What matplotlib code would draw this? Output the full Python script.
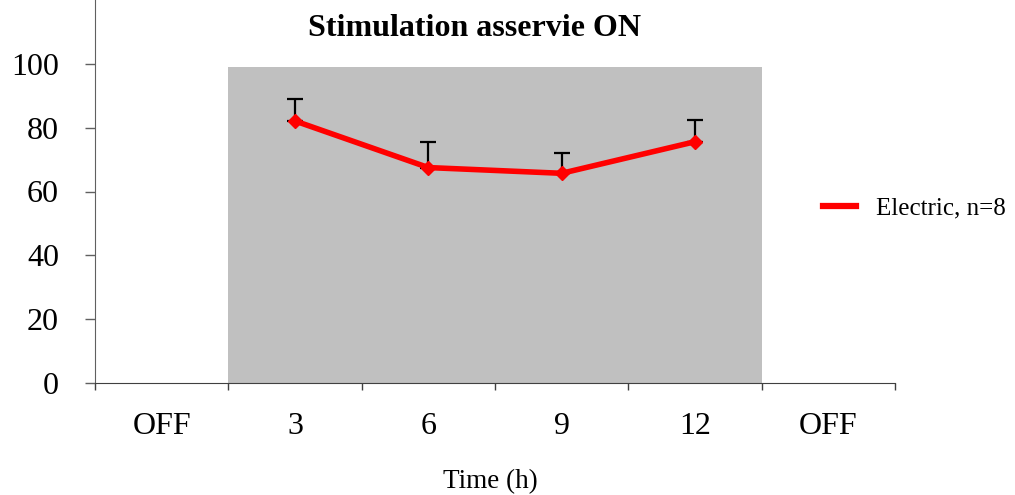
import numpy as np
import matplotlib
matplotlib.use("Agg")
import matplotlib.pyplot as plt
from matplotlib.lines import Line2D

# ---------- Data ----------
categories = ["OFF", "3", "6", "9", "12", "OFF"]
time_idx = [1, 2, 3, 4]            # category index of 3, 6, 9, 12 h
values = [82.1, 67.5, 65.7, 75.6]
errors = [7.0, 7.9, 6.3, 6.7]
on_start, on_end, on_level = 1, 5, 99.0
series_label = "Electric, n=8"

plt.rcParams['font.family'] = ['Liberation Serif', 'DejaVu Serif']

fig = plt.figure(figsize=(10.15, 4.95), dpi=100)
ax = fig.add_axes([95 / 1015, 1 - 383 / 495, 800 / 1015, 383 / 495])

# gray "ON" block
ax.bar((on_start + on_end) / 2, on_level, width=on_end - on_start,
       color="#c0c0c0", zorder=1)

xc = np.array(time_idx) + 0.5
ax.errorbar(xc, values, yerr=[np.zeros(len(errors)), errors], fmt="none",
            ecolor="black", elinewidth=1.6, capsize=5.5, capthick=1.6, zorder=2)
ax.plot(xc, values, color="red", lw=4, marker="D", ms=7, zorder=3)

ax.set_xlim(0, len(categories))
ax.set_ylim(0, 120)

# boundaries get tick marks, labels go at centres
ax.set_xticks(np.arange(len(categories) + 1))
ax.set_xticklabels([])
ax.set_xticks(np.arange(len(categories)) + 0.5, minor=True)
ax.set_xticklabels(categories, minor=True, fontsize=23)
ax.tick_params(axis="x", which="major", direction="out", length=5,
               color="#404040", width=1)
ax.tick_params(axis="x", which="minor", length=0, pad=21)

ax.set_yticks([0, 20, 40, 60, 80, 100])
ax.tick_params(axis="y", direction="out", length=7, width=1,
               color="#606060", labelsize=23, pad=19)

for s in ["top", "right"]:
    ax.spines[s].set_visible(False)
ax.spines["left"].set_color("#606060")
ax.spines["bottom"].set_color("#404040")

fig.text(475 / 1015, 1 - 28 / 495, "Stimulation asservie ON",
         ha="center", va="center", fontsize=23, fontweight="bold")
fig.text(490 / 1015, 1 - 482 / 495, "Time (h)", ha="center", va="center",
         fontsize=19.5)

handle = Line2D([], [], color="red", lw=4.5)
fig.legend([handle], [series_label], loc="center left",
           bbox_to_anchor=(813 / 1015, 1 - 208 / 495), borderaxespad=0,
           frameon=False, fontsize=18, handlelength=1.3, handletextpad=0.8)

fig.savefig("out.png", dpi=100)
